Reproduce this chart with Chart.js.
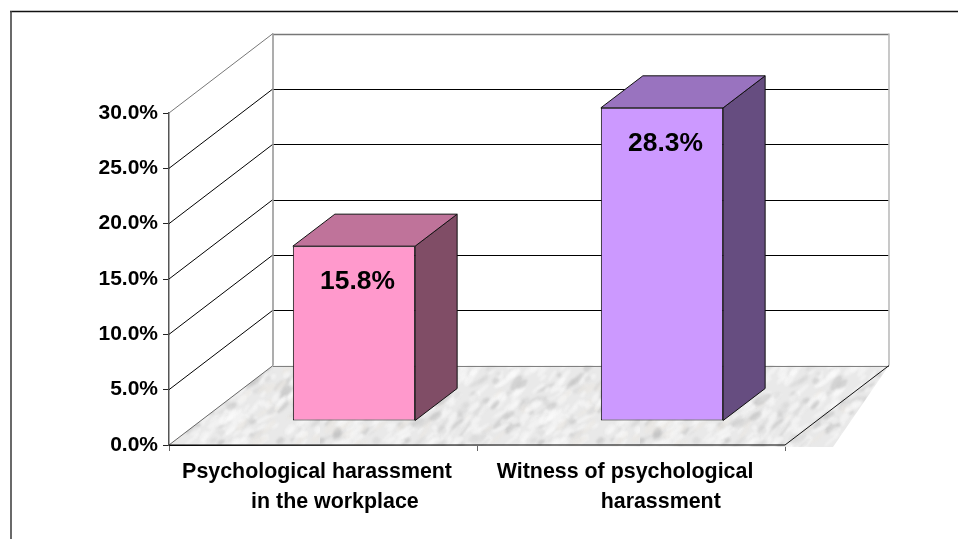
<!DOCTYPE html>
<html><head><meta charset="utf-8">
<style>html,body{margin:0;padding:0;background:#fff}canvas{display:block}</style>
<script src="https://cdn.jsdelivr.net/npm/chart.js@4/dist/chart.umd.min.js"></script>
</head><body><canvas id="c" width="958" height="539"></canvas>
<script>
const categories = [
  ['Psychological harassment  ', '    in the workplace'],
  ['Witness of psychological  ', '          harassment']
];
const values = [15.8, 28.3];
const frontColors = ['#FF99CC', '#CC99FF'];
const topColors = ['#BF739A', '#9973BF'];
const sideColors = ['#804D66', '#664D80'];

const WALL = {dx: 104, dy: -79.5};     // depth of the 3D box
const BAR_POS = {dx: 31, dy: -24};     // where the bars stand on the floor
const BAR_DEPTH = {dx: 42, dy: -32};   // depth of each bar
const FONT = 'Arial, "Liberation Sans", sans-serif';

function floorPattern(ctx) {
  const c = document.createElement('canvas'); c.width = 320; c.height = 160;
  const g = c.getContext('2d');
  g.fillStyle = '#e9e9e9'; g.fillRect(0, 0, 320, 160);
  g.filter = 'blur(1.3px)';
  const h = n => { const s = Math.sin(n * 127.1 + 11.7) * 43758.5453; return s - Math.floor(s); };
  for (let i = 1; i < 900; i++) {
    const x = h(i) * 320, y = h(i + 2000) * 160;
    const k = h(i + 4000);
    g.fillStyle = k < 0.12 ? 'rgba(185,185,185,.45)' : k < 0.35 ? 'rgba(212,212,212,.5)' : k < 0.45 ? 'rgba(235,231,226,.6)' : 'rgba(252,252,252,.5)';
    g.beginPath();
    g.ellipse(x, y, 2.5 + h(i + 6000) * 8, 1.2 + h(i + 8000) * 2.5, -0.7 + (h(i + 9000) - .5) * 0.6, 0, Math.PI * 2);
    g.fill();
  }
  return ctx.createPattern(c, 'repeat');
}

function poly(ctx, pts) {
  ctx.beginPath();
  pts.forEach((p, i) => i ? ctx.lineTo(p[0], p[1]) : ctx.moveTo(p[0], p[1]));
  ctx.closePath();
}
function line(ctx, x1, y1, x2, y2, color, w) {
  ctx.strokeStyle = color; ctx.lineWidth = w;
  ctx.beginPath(); ctx.moveTo(x1, y1); ctx.lineTo(x2, y2); ctx.stroke();
}

const box3d = {
  id: 'box3d',
  beforeDatasetsDraw(chart) {
    const {ctx, chartArea: a, scales: {y}} = chart;
    const bottom = y.getPixelForValue(0), left = a.left, right = a.right;
    ctx.save();
    // outer frame
    line(ctx, 10, 11.5, 958, 11.5, '#111', 1.3);
    line(ctx, 11, 11, 11, 539, '#444', 1.6);
    // floor
    ctx.fillStyle = floorPattern(ctx);
    poly(ctx, [[left, bottom], [right + 48, bottom + 2], [right + WALL.dx, bottom + WALL.dy],
               [left + WALL.dx, bottom + WALL.dy]]);
    ctx.fill();
    // grid on side and back walls
    y.ticks.forEach(t => {
      const py = y.getPixelForValue(t.value);
      const top = t.value === y.max;
      const col = top ? '#777' : '#000';
      if (t.value !== 0) {
        line(ctx, left, py, left + WALL.dx, py + WALL.dy, col, 1);
      }
      line(ctx, left + WALL.dx, Math.round(py + WALL.dy) + .5, right + WALL.dx, Math.round(py + WALL.dy) + .5,
           t.value === 0 ? '#808080' : col, top ? 1.3 : 1);
    });
    // box edges
    line(ctx, left, bottom, left + WALL.dx, bottom + WALL.dy, '#666', 1);
    line(ctx, left + WALL.dx, y.getPixelForValue(y.max) + WALL.dy, left + WALL.dx, bottom + WALL.dy, '#999', 1.6);
    line(ctx, right + WALL.dx, y.getPixelForValue(y.max) + WALL.dy, right + WALL.dx, bottom + WALL.dy, '#bbb', 1.6);
    line(ctx, right, bottom, right + WALL.dx, bottom + WALL.dy, '#111', 1);
    line(ctx, left, bottom, right, bottom, '#000', 1);
    ctx.restore();
    ctx.save();
    ctx.translate(BAR_POS.dx, BAR_POS.dy);
  },
  afterDatasetsDraw(chart) {
    const {ctx} = chart;
    ctx.restore();
    const meta = chart.getDatasetMeta(0);
    ctx.save();
    meta.data.forEach((bar, i) => {
      const {x, y, base, width} = bar.getProps(['x', 'y', 'base', 'width'], true);
      const L = x - width / 2 + BAR_POS.dx, R = x + width / 2 + BAR_POS.dx;
      const T = y + BAR_POS.dy, B = base + BAR_POS.dy;
      const D = BAR_DEPTH;
      ctx.strokeStyle = '#111'; ctx.lineWidth = 1; ctx.lineJoin = 'round';
      poly(ctx, [[R, T], [R + D.dx, T + D.dy], [R + D.dx, B + D.dy], [R, B]]);
      ctx.fillStyle = sideColors[i]; ctx.fill(); ctx.stroke();
      poly(ctx, [[L, T], [L + D.dx, T + D.dy], [R + D.dx, T + D.dy], [R, T]]);
      ctx.fillStyle = topColors[i]; ctx.fill(); ctx.stroke();
      ctx.fillStyle = '#000';
      ctx.font = 'bold 26.4px ' + FONT;
      ctx.textAlign = 'center'; ctx.textBaseline = 'middle';
      ctx.fillText(values[i].toFixed(1) + '%', x + BAR_POS.dx + 3.5, T + 36);
    });
    ctx.restore();
  }
};

new Chart(document.getElementById('c'), {
  type: 'bar',
  data: {
    labels: categories,
    datasets: [{
      data: values,
      backgroundColor: frontColors,
      borderColor: '#111',
      borderWidth: 1,
      borderSkipped: false,
      barPercentage: 0.397,
      categoryPercentage: 1,
      clip: false
    }]
  },
  options: {
    responsive: false,
    animation: false,
    layout: {padding: {top: 113, right: 173, left: 0, bottom: 0}},
    plugins: {legend: {display: false}, tooltip: {enabled: false}},
    scales: {
      x: {
        afterFit(s) { s.height = 94; },
        border: {color: '#000', width: 1},
        grid: {drawOnChartArea: false, drawTicks: true, tickLength: 6, color: '#666', offset: true},
        ticks: {
          autoSkip: false, maxRotation: 0, minRotation: 0, padding: 6,
          color: '#000', font: {family: FONT, size: 21.4, weight: 'bold', lineHeight: '30px'}
        }
      },
      y: {
        min: 0, max: 30,
        afterFit(s) { s.width = 169; },
        border: {color: '#555', width: 1.5},
        grid: {drawOnChartArea: false, drawTicks: true, tickLength: 6, color: '#222'},
        ticks: {
          stepSize: 5, padding: 5, color: '#000',
          font: {family: FONT, size: 21, weight: 'bold'},
          callback: v => v.toFixed(1) + '%'
        }
      }
    }
  },
  plugins: [box3d]
});
</script></body></html>
